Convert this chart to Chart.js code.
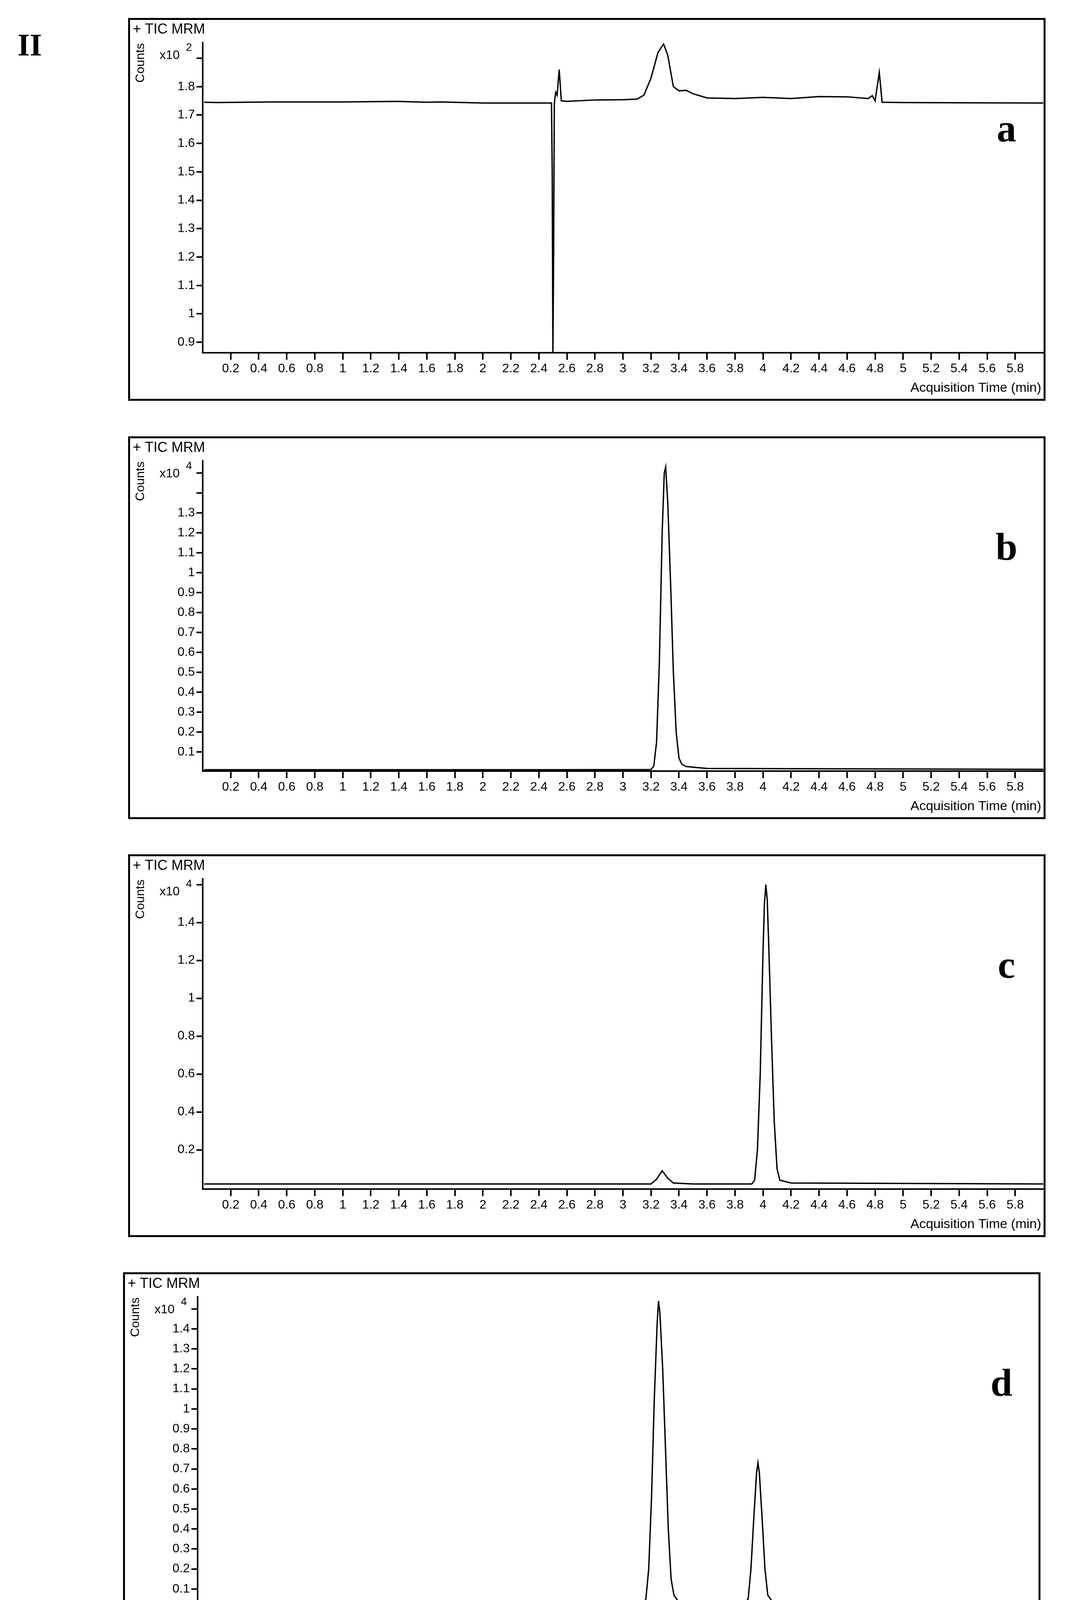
<!DOCTYPE html>
<html>
<head>
<meta charset="utf-8">
<script src="https://cdn.jsdelivr.net/npm/chart.js@4.4.0/dist/chart.umd.min.js"></script>
<style>
  body { margin: 0; background: #fff; width: 2755px; height: 4282px; position: relative; }
  canvas { position: absolute; }
  #fig { position: absolute; left: 45px; top: 70px; font: bold 80px "Liberation Serif", serif; }
</style>
</head>
<body>
<div id="fig">II</div>
<canvas id="ca" style="left:328px;top:46px" width="2349" height="980"></canvas>
<canvas id="cb" style="left:328px;top:1117px" width="2349" height="980"></canvas>
<canvas id="cc" style="left:328px;top:2187px" width="2349" height="980"></canvas>
<canvas id="cd" style="left:315px;top:3257px" width="2349" height="980"></canvas>
<script>
// x tick labels shared by all panels
const timeTicks = [0.2,0.4,0.6,0.8,1,1.2,1.4,1.6,1.8,2,2.2,2.4,2.6,2.8,3,3.2,3.4,3.6,3.8,4,4.2,4.4,4.6,4.8,5,5.2,5.4,5.6,5.8];

// panel a (x10^2)
const timeA = [0.01,0.1,0.5,1.0,1.4,1.45,1.6,1.7,2.0,2.49,2.495,2.5,2.505,2.51,2.52,2.53,2.545,2.56,2.6,2.8,3.0,3.1,3.15,3.2,3.25,3.29,3.32,3.36,3.4,3.45,3.5,3.6,3.8,4.0,4.2,4.4,4.6,4.75,4.78,4.80,4.83,4.85,5.0,5.5,6.0];
const countsA = [1.745,1.744,1.746,1.746,1.748,1.747,1.745,1.746,1.742,1.742,1.5,0.85,1.2,1.74,1.78,1.77,1.86,1.75,1.748,1.753,1.754,1.756,1.77,1.83,1.92,1.95,1.91,1.80,1.785,1.787,1.775,1.76,1.758,1.762,1.758,1.765,1.764,1.758,1.768,1.750,1.85,1.745,1.744,1.743,1.742];
const yTicksA = [0.9,1.0,1.1,1.2,1.3,1.4,1.5,1.6,1.7,1.8,1.9];

// panel b (x10^4)
const timeB = [0.01,2.5,3.2,3.22,3.24,3.26,3.28,3.295,3.305,3.32,3.34,3.36,3.38,3.40,3.42,3.45,3.6,6.0];
const countsB = [0.012,0.012,0.013,0.03,0.15,0.55,1.2,1.5,1.53,1.35,0.95,0.5,0.2,0.07,0.04,0.028,0.018,0.014];
const yTicksB = [0.1,0.2,0.3,0.4,0.5,0.6,0.7,0.8,0.9,1.0,1.1,1.2,1.3,1.4,1.5];

// panel c (x10^4)
const timeC = [0.01,2.5,3.2,3.24,3.28,3.32,3.36,3.5,3.92,3.94,3.96,3.98,4.0,4.01,4.02,4.03,4.04,4.06,4.08,4.10,4.12,4.2,6.0];
const countsC = [0.02,0.02,0.02,0.045,0.09,0.05,0.025,0.02,0.02,0.04,0.2,0.6,1.25,1.5,1.6,1.52,1.3,0.8,0.35,0.1,0.04,0.025,0.02];
const yTicksC = [0.2,0.4,0.6,0.8,1.0,1.2,1.4,1.6];

// panel d (x10^4)
const timeD = [0.01,2.5,3.18,3.2,3.22,3.24,3.26,3.28,3.29,3.30,3.32,3.34,3.36,3.38,3.40,3.43,3.5,3.9,3.93,3.95,3.97,3.99,4.00,4.01,4.03,4.05,4.07,4.1,4.2,6.0];
const countsD = [0.025,0.025,0.028,0.05,0.2,0.55,1.05,1.42,1.54,1.48,1.2,0.8,0.4,0.15,0.07,0.04,0.03,0.028,0.05,0.2,0.45,0.68,0.73,0.68,0.45,0.2,0.07,0.04,0.03,0.028];
const yTicksD = [0.1,0.2,0.3,0.4,0.5,0.6,0.7,0.8,0.9,1.0,1.1,1.2,1.3,1.4,1.5];

const font = '"Liberation Sans", Arial, sans-serif';

function drawPanel(id, times, counts, yTicks, yMin, yMax, lastLabeled, exp, letter) {
  const points = times.map((t, i) => ({ x: t, y: counts[i] }));
  const decor = {
    id: 'decor',
    afterDraw(chart) {
      const c = chart.ctx;
      c.save();
      c.strokeStyle = '#000';
      c.lineWidth = 5;
      c.strokeRect(2.5, 2.5, chart.width - 5, chart.height - 5);
      c.fillStyle = '#000';
      c.textBaseline = 'middle';
      c.textAlign = 'left';
      c.font = '36px ' + font;
      c.fillText('+ TIC MRM', 12, 30);
      c.font = '34px ' + font;
      c.textAlign = 'right';
      c.fillText('Acquisition Time (min)', 2338, 948);
      c.font = '32px ' + font;
      c.fillText('x10', 132, 96);
      c.font = '28px ' + font;
      c.textAlign = 'left';
      c.fillText(exp, 148, 76);
      c.save();
      c.translate(32, 115);
      c.rotate(-Math.PI / 2);
      c.textAlign = 'center';
      c.font = '32px ' + font;
      c.fillText('Counts', 0, 0);
      c.restore();
      c.font = 'bold 100px "Liberation Serif", serif';
      c.textAlign = 'center';
      c.fillText(letter, 2249, 290);
      c.restore();
    }
  };
  new Chart(document.getElementById(id), {
    type: 'line',
    data: { datasets: [{ data: points, borderColor: '#000', borderWidth: 3.5, pointRadius: 0, tension: 0, fill: false }] },
    options: {
      responsive: false,
      devicePixelRatio: 1,
      animation: false,
      layout: { padding: { top: 63, right: 6, left: 0, bottom: 0 } },
      plugins: { legend: { display: false }, tooltip: { enabled: false } },
      scales: {
        x: {
          type: 'linear', min: 0, max: 6,
          afterBuildTicks: s => { s.ticks = timeTicks.map(v => ({ value: v })); },
          afterFit: s => { s.height = 123; },
          border: { color: '#000', width: 4 },
          grid: { drawOnChartArea: false, color: '#000', lineWidth: 4, tickLength: 18 },
          ticks: { color: '#000', font: { family: font, size: 32 }, padding: 4, maxRotation: 0, autoSkip: false,
                   callback: v => String(Math.round(v * 10) / 10) }
        },
        y: {
          type: 'linear', min: yMin, max: yMax,
          afterBuildTicks: s => { s.ticks = yTicks.map(v => ({ value: v })); },
          afterFit: s => { s.width = 191; },
          border: { color: '#000', width: 4 },
          grid: { drawOnChartArea: false, color: '#000', lineWidth: 4, tickLength: 16 },
          ticks: { color: '#000', font: { family: font, size: 32 }, padding: 4, autoSkip: false,
                   callback: v => v > lastLabeled + 1e-9 ? '' : String(Math.round(v * 10) / 10) }
        }
      }
    },
    plugins: [decor]
  });
}

drawPanel('ca', timeA, countsA, yTicksA, 0.863, 1.955, 1.8, '2', 'a');
drawPanel('cb', timeB, countsB, yTicksB, 0.005, 1.56, 1.3, '4', 'b');
drawPanel('cc', timeC, countsC, yTicksC, -0.007, 1.63, 1.4, '4', 'c');
drawPanel('cd', timeD, countsD, yTicksD, 0.01, 1.56, 1.4, '4', 'd');
</script>
</body>
</html>
